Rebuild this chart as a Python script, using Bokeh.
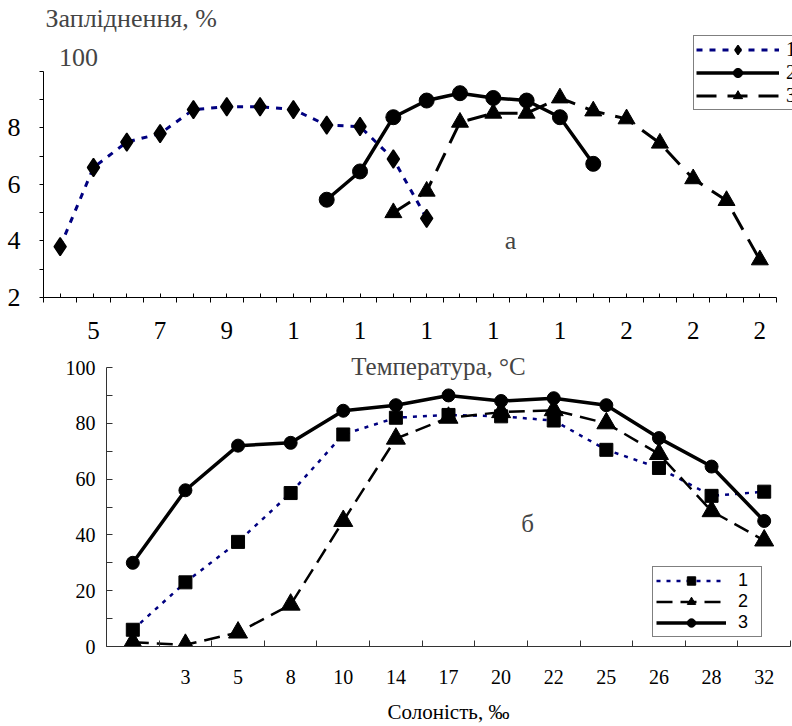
from bokeh.plotting import figure
from bokeh.models import FixedTicker, Range1d, Label, Legend, LegendItem
from bokeh.embed import file_html
from bokeh.resources import INLINE

# ---------------- data: panel a (temperature) ----------------
top_temps = [4, 5, 6, 7, 8, 9, 10, 11, 12, 13, 14, 15, 16, 17, 18, 19, 20, 21, 22, 23, 24, 25]
top_tick_labels = ["", "5", "", "7", "", "9", "", "1", "", "1", "", "1", "", "1", "", "1", "", "2", "", "2", "", "2"]
top_y_ticks = [20, 30, 40, 50, 60, 70, 80, 90, 100]
top_y_labels = ["2", "", "4", "", "6", "", "8", "", ""]

a1_temps = [4, 5, 6, 7, 8, 9, 10, 11, 12, 13, 14, 15]
a1_vals = [38, 66, 75, 78, 86.5, 87.5, 87.5, 86.5, 81, 80.5, 69, 48]
a2_temps = [12, 13, 14, 15, 16, 17, 18, 19, 20]
a2_vals = [54.6, 64.6, 83.8, 89.7, 92.3, 90.6, 89.7, 83.8, 67.3]
a3_temps = [14, 15, 16, 17, 18, 19, 20, 21, 22, 23, 24, 25]
a3_vals = [50, 57.6, 82, 85.2, 85.2, 90.6, 86, 83.2, 74.6, 62, 54.3, 33.3]

# ---------------- data: panel b (salinity) ----------------
salinity_labels = ["", "3", "5", "8", "10", "14", "17", "20", "22", "25", "26", "28", "32"]
b1_vals = [6, 23, 37.5, 55, 76, 82, 83, 82.5, 81, 70.5, 64, 54, 55.5]
b2_vals = [1.5, 0.6, 5, 15, 45, 74.5, 82, 84, 84.7, 80, 69, 48.5, 38]
b3_vals = [30, 56, 72, 73, 84.5, 86.5, 90, 88, 89, 86.5, 74.7, 64.5, 45]
bottom_y_ticks = [0, 10, 20, 30, 40, 50, 60, 70, 80, 90, 100]
bottom_y_labels = ["0", "", "20", "", "40", "", "60", "", "80", "", "100"]

legend_labels = ["1", "2", "3"]

SERIF = "Liberation Serif"
SANS = "Liberation Sans"
NAVY = "#000080"


def style_legend(leg, font, size, glyph_w, glyph_h, pad, standoff):
    leg.orientation = "vertical"
    leg.padding = pad
    leg.spacing = 0
    leg.margin = 0
    leg.glyph_width = glyph_w
    leg.glyph_height = glyph_h
    leg.label_height = glyph_h
    leg.label_standoff = standoff
    leg.label_text_font = font
    leg.label_text_font_size = size
    leg.label_text_color = "black"
    leg.border_line_color = "black"
    leg.border_line_width = 1
    leg.background_fill_color = "white"
    leg.background_fill_alpha = 1


# =============== top figure ===============
n_top = len(top_temps)
p1 = figure(width=792, height=350, x_range=Range1d(-0.5, 21.98), y_range=Range1d(20, 125.1),
            output_backend="svg", toolbar_location=None,
            min_border_left=43, min_border_right=0, min_border_top=0, min_border_bottom=53)
p1.outline_line_color = None
p1.grid.visible = False

xa = [top_temps.index(t) for t in a1_temps]
xb = [top_temps.index(t) for t in a2_temps]
xc = [top_temps.index(t) for t in a3_temps]

l1 = p1.line(xa, a1_vals, line_color=NAVY, line_width=3, line_dash="6 7")
m1 = p1.scatter(xa, a1_vals, marker="diamond", size=18, fill_color="black", line_color="black",
                line_width=1.5)
l2 = p1.line(xb, a2_vals, line_color="black", line_width=3.5)
m2 = p1.scatter(xb, a2_vals, marker="circle", size=15, fill_color="black", line_color="black")
l3 = p1.line(xc, a3_vals, line_color="black", line_width=3, line_dash="20 11")
m3 = p1.scatter(xc, a3_vals, marker="triangle", size=17, fill_color="black", line_color="black")

xax = p1.xaxis[0]
xax.bounds = (-0.5, n_top - 0.5)
xax.ticker = FixedTicker(ticks=list(range(n_top)), minor_ticks=[k - 0.5 for k in range(n_top + 1)])
xax.major_label_overrides = {i: lab for i, lab in enumerate(top_tick_labels)}
xax.major_tick_in = 4
xax.major_tick_out = 0
xax.minor_tick_in = 0
xax.minor_tick_out = 5
xax.major_label_standoff = 19
xax.major_label_text_font = SERIF
xax.major_label_text_font_size = "25px"
xax.major_label_text_color = "black"
xax.axis_line_color = "black"
xax.major_tick_line_color = "black"
xax.minor_tick_line_color = "black"

yax = p1.yaxis[0]
yax.bounds = (20, 100)
yax.ticker = FixedTicker(ticks=top_y_ticks, minor_ticks=[])
yax.major_label_overrides = {t: lab for t, lab in zip(top_y_ticks, top_y_labels)}
yax.major_tick_in = 0
yax.major_tick_out = 4
yax.major_label_standoff = 19
yax.major_label_text_font = SERIF
yax.major_label_text_font_size = "26px"
yax.major_label_text_color = "black"
yax.axis_line_color = "black"
yax.major_tick_line_color = "black"

leg1 = Legend(items=[LegendItem(label=legend_labels[0], renderers=[l1, m1]),
                     LegendItem(label=legend_labels[1], renderers=[l2, m2]),
                     LegendItem(label=legend_labels[2], renderers=[l3, m3])],
              location=(650, 187))
style_legend(leg1, SERIF, "20px", 83, 23, 2, 7)
p1.add_layout(leg1)

p1.add_layout(Label(x=2, y=279, x_units="screen", y_units="screen", text="Запліднення, %",
                    text_font=SERIF, text_font_size="26px", text_align="left", text_baseline="middle"))
p1.add_layout(Label(x=35, y=240, x_units="screen", y_units="screen", text="100",
                    text_font=SERIF, text_font_size="26px", text_align="center", text_baseline="middle"))
p1.add_layout(Label(x=467, y=57, x_units="screen", y_units="screen", text="а",
                    text_font=SERIF, text_font_size="26px", text_align="center", text_baseline="middle"))

# =============== bottom figure ===============
n_bot = len(salinity_labels)
p2 = figure(width=792, height=376, x_range=Range1d(-0.5, n_bot - 0.5), y_range=Range1d(0, 106.1),
            output_backend="svg", toolbar_location=None,
            min_border_left=106, min_border_right=2, min_border_top=0, min_border_bottom=80)
p2.outline_line_color = None
p2.grid.visible = False

xs = list(range(n_bot))
k1 = p2.line(xs, b1_vals, line_color=NAVY, line_width=2.5, line_dash="4 6")
n1 = p2.scatter(xs, b1_vals, marker="square", size=13, fill_color="black", line_color="black")
k2 = p2.line(xs, b2_vals, line_color="black", line_width=2.5, line_dash="16 8")
n2 = p2.scatter(xs, b2_vals, marker="triangle", size=19, fill_color="black", line_color="black")
k3 = p2.line(xs, b3_vals, line_color="black", line_width=3.5)
n3 = p2.scatter(xs, b3_vals, marker="circle", size=13, fill_color="black", line_color="black")

bx = p2.xaxis[0]
bx.ticker = FixedTicker(ticks=xs, minor_ticks=[k - 0.5 for k in range(n_bot + 1)])
bx.major_label_overrides = {i: lab for i, lab in enumerate(salinity_labels)}
bx.major_tick_in = 0
bx.major_tick_out = 0
bx.minor_tick_in = 6
bx.minor_tick_out = 0
bx.major_label_standoff = 23
bx.major_label_text_font = SERIF
bx.major_label_text_font_size = "20px"
bx.major_label_text_color = "black"
bx.axis_line_color = "#333333"
bx.minor_tick_line_color = "#333333"
bx.axis_label = "Солоність, ‰"
bx.axis_label_standoff = 13
bx.axis_label_text_font = SERIF
bx.axis_label_text_font_size = "21px"
bx.axis_label_text_font_style = "normal"
bx.axis_label_text_color = "black"

by = p2.yaxis[0]
by.bounds = (0, 100)
by.ticker = FixedTicker(ticks=bottom_y_ticks, minor_ticks=[])
by.major_label_overrides = {t: lab for t, lab in zip(bottom_y_ticks, bottom_y_labels)}
by.major_tick_in = 6
by.major_tick_out = 0
by.major_label_standoff = 11
by.major_label_text_font = SERIF
by.major_label_text_font_size = "20px"
by.major_label_text_color = "black"
by.axis_line_color = "#333333"
by.major_tick_line_color = "#333333"

leg2 = Legend(items=[LegendItem(label=legend_labels[0], renderers=[k1, n1]),
                     LegendItem(label=legend_labels[1], renderers=[k2, n2]),
                     LegendItem(label=legend_labels[2], renderers=[k3, n3])],
              location=(546, 9))
style_legend(leg2, SANS, "18px", 70, 21, 3, 12)
p2.add_layout(leg2)

p2.add_layout(Label(x=332, y=280, x_units="screen", y_units="screen", text="Температура, °C",
                    text_font=SERIF, text_font_size="25px", text_align="center", text_baseline="middle"))
p2.add_layout(Label(x=421, y=123, x_units="screen", y_units="screen", text="б",
                    text_font=SERIF, text_font_size="25px", text_align="center", text_baseline="middle"))

open("out.html", "w").write(file_html([p1, p2], INLINE))
